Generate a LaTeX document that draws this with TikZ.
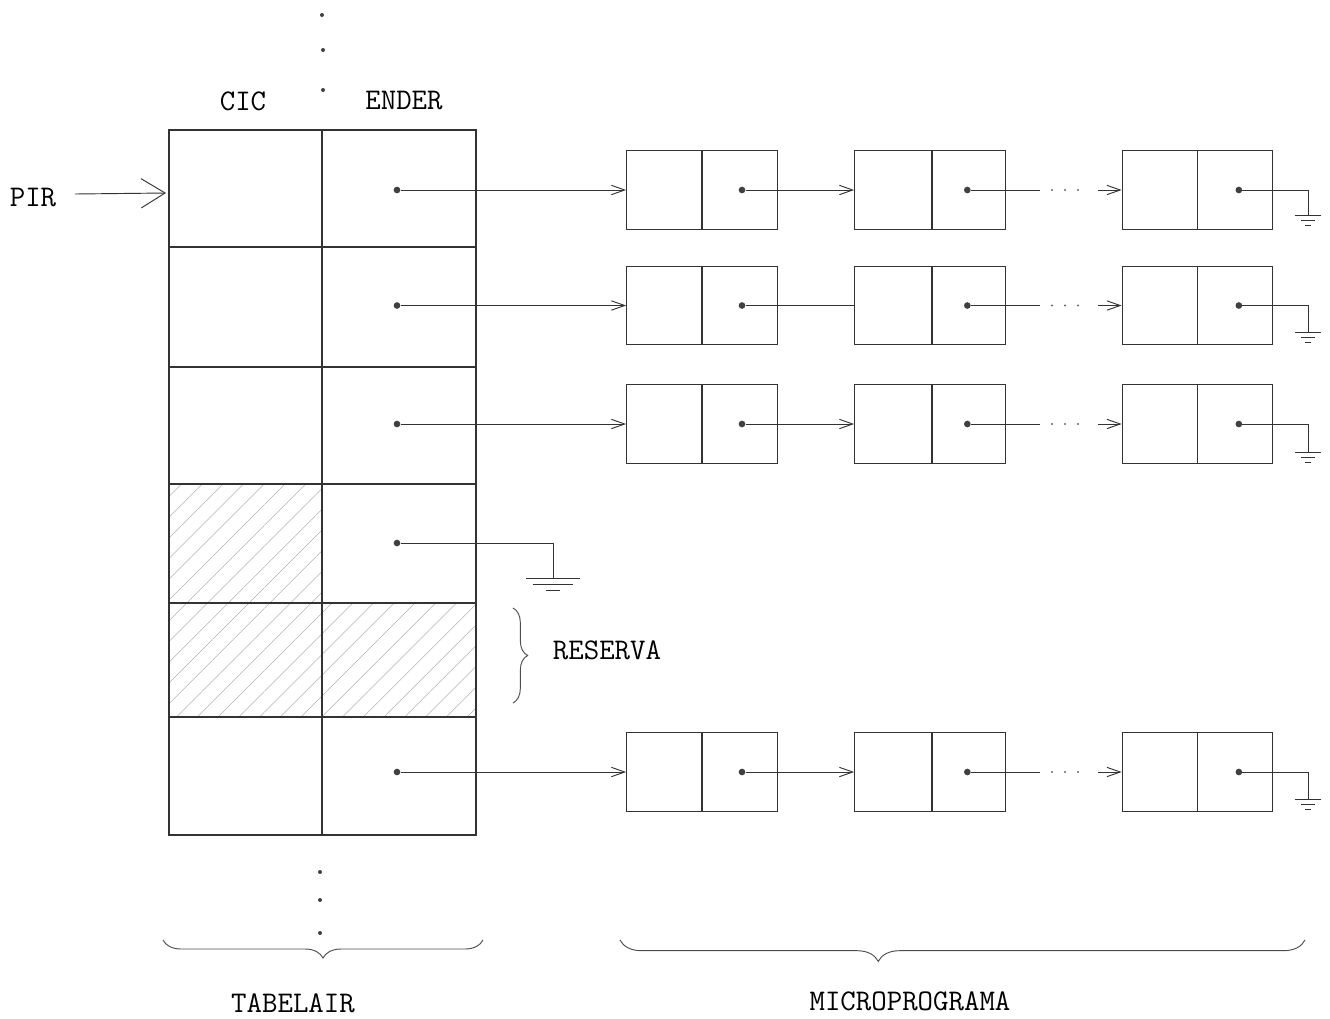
\documentclass[tikz,border=0pt]{standalone}
\usetikzlibrary{arrows.meta,decorations.pathreplacing,patterns.meta}
\begin{document}
\begin{tikzpicture}[x=0.75pt,y=-0.75pt,
  ink/.style={draw=black!80,line width=0.8pt},
  lbox/.style={draw=black!80,line width=0.8pt,minimum width=113pt,minimum height=59pt,inner sep=0pt},
  pdot/.style={circle,fill=black!75,inner sep=0pt,minimum size=5pt},
  sdot/.style={circle,fill=black!75,inner sep=0pt,minimum size=3pt},
  link/.style={draw=black!80,line width=0.7pt},
  arr/.style={link,-{Straight Barb[length=10pt,width=7pt]}},
  pirarr/.style={link,-{Straight Barb[length=18pt,width=22pt]}},
  txt/.style={font=\fontsize{22.5}{27}\selectfont\ttfamily,text=black,inner sep=0pt},
  hatch/.style={pattern={Lines[angle=45,distance=11pt,line width=0.4pt]},pattern color=black!30},
  brc/.style={draw=black!70,line width=0.7pt,decorate},
  gnd/.pic={\draw[link] (-13,0)--(13,0) (-7,5)--(7,5) (-3,10)--(3,10);},
  biggnd/.pic={\draw[link] (-27,0)--(27,0) (-20,6)--(20,6) (-7,12)--(7,12);}
]
\useasboundingbox (0,0) rectangle (1330,1018);

% hatching
\fill[hatch] (169,484) rectangle (322,717);
\fill[hatch] (322,603) rectangle (476,717);

% table
\draw[ink] (169,130) rectangle (476,835);
\draw[ink] (322,130) -- (322,835);
\foreach \yy in {247,367,484,603,717} \draw[ink] (169,\yy) -- (476,\yy);

% dots above and below
\node[sdot] (td1) at (322,15) {};
\node[sdot] (td2) at (323,50) {};
\node[sdot] (td3) at (323,90) {};
\node[sdot] (bd1) at (320,872) {};
\node[sdot] (bd2) at (320,900) {};
\node[sdot] (bd3) at (320,933) {};

% labels
\node[txt] (cic) at (243,101) {CIC};
\node[txt] (ender) at (404,101) {ENDER};
\node[txt] (pir) at (33,198) {PIR};
\node[txt] (reserva) at (607,650) {RESERVA};
\node[txt] (tabelair) at (293,1003) {TABELAIR};
\node[txt] (micro) at (910,1001) {MICROPROGRAMA};

% PIR arrow
\coordinate (pirin) at (166,193);
\draw[pirarr] ([xshift=14pt,yshift=3pt]pir.east) -- (pirin);

% lists
\foreach \r/\y/\ah/\gd in {1/190/arr/25, 2/305.5/link/27, 3/424/arr/28, 6/772/arr/27} {
  \node[lbox] (a\r) at (702,\y) {};
  \node[lbox] (b\r) at (930,\y) {};
  \node[lbox] (c\r) at (1197.5,\y) {};
  \draw[ink] (a\r.north) -- (a\r.south);
  \draw[ink] ([xshift=1.5pt]b\r.north) -- ([xshift=1.5pt]b\r.south);
  \draw[ink] (c\r.north) -- (c\r.south);
  \node[pdot] (t\r) at (397,\y) {};
  \node[pdot] (pa\r) at ([xshift=30pt]a\r.center) {};
  \node[pdot] (pb\r) at ([xshift=28pt]b\r.center) {};
  \node[pdot] (pc\r) at ([xshift=31pt]c\r.center) {};
  \draw[arr] (t\r) -- (a\r.west);
  \draw[\ah] (pa\r) -- (b\r.west);
  \coordinate (s\r) at (1040,\y);
  \coordinate (e\r) at (1098,\y);
  \draw[link] (pb\r) -- (s\r);
  \foreach \xx in {1052,1065,1078} \fill[black!60] (\xx,\y) circle (0.9pt);
  \draw[arr] (e\r) -- (c\r.west);
  \coordinate (g\r) at (1308,\y+\gd);
  \draw[link] (pc\r) -| (g\r);
  \pic at (g\r) {gnd};
}

% row 4 ground
\node[pdot] (t4) at (397,543) {};
\coordinate (g4) at (553,578);
\draw[link] (t4) -| (g4);
\pic at (g4) {biggnd};

% braces
\draw[brc,decoration={brace,amplitude=11pt}] (513,608) -- (513,703);
\draw[brc,decoration={brace,amplitude=13.5pt}] (483,940) -- (163,940);
\draw[brc,decoration={brace,amplitude=16pt,aspect=0.623}] (1305,940) -- (620,940);
\end{tikzpicture}
\end{document}
